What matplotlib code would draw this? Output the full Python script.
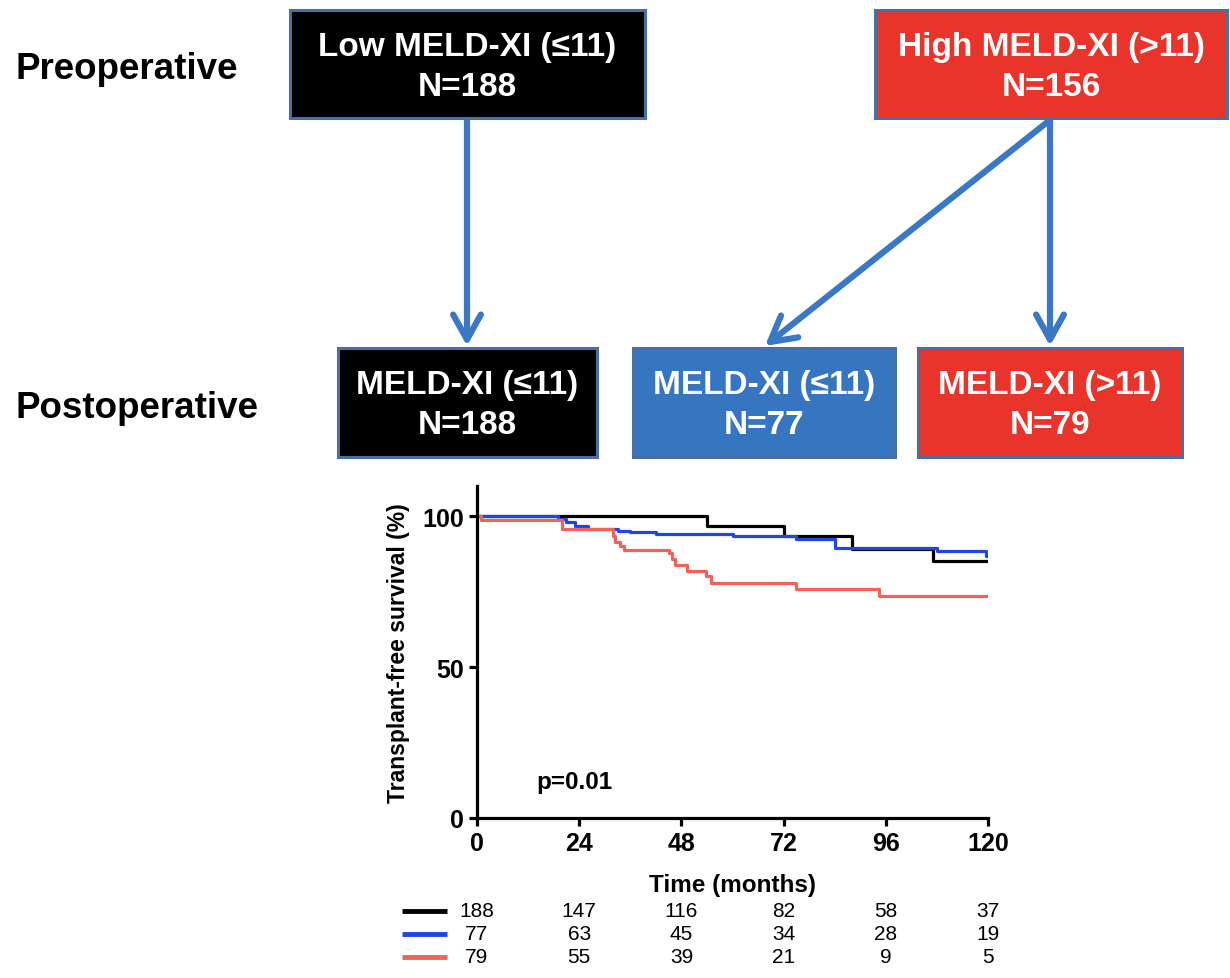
import matplotlib
matplotlib.use("Agg")
import matplotlib.pyplot as plt
from matplotlib.patches import Rectangle, FancyArrowPatch
from matplotlib.transforms import blended_transform_factory

plt.rcParams['font.family'] = ['Liberation Sans', 'DejaVu Sans']

# Kaplan-Meier curves (months, % transplant-free)
low_t = [0, 54, 72, 88, 107, 120]
low_s = [100, 96.8, 93.5, 89.2, 85.2, 85.2]

blue_t = [0, 19, 21, 23, 26, 33, 36, 42, 60, 75, 84, 108, 119.5, 120]
blue_s = [100, 99.2, 98.0, 96.8, 95.6, 95.2, 94.6, 94.0, 93.3, 92.6, 89.6, 88.6, 86.8, 86.8]

red_t = [0, 1, 20, 32, 32.5, 33.5, 34.5, 45, 45.8, 46.6, 49.2, 53.8, 55, 75, 94.5, 120]
red_s = [100, 98.7, 95.6, 93.5, 91.5, 90.0, 88.9, 87.7, 85.9, 83.9, 82.0, 80.1, 77.9, 75.9, 73.5, 73.5]

risk_times = [0, 24, 48, 72, 96, 120]
risk_low = [188, 147, 116, 82, 58, 37]
risk_blue = [77, 63, 45, 34, 28, 19]
risk_red = [79, 55, 39, 21, 9, 5]

BLACK = '#000000'
BLUE_LINE = '#1d47e0'
RED_LINE = '#f0625a'
BOX_RED = '#e8342a'
BOX_BLUE = '#3676c1'
EDGE = '#4a6fa5'
ARROW = '#3a78c6'

fig = plt.figure(figsize=(12.3, 9.79), dpi=100)

# flow diagram drawn on an overlay in pixel units
ax0 = fig.add_axes([0, 0, 1, 1])
ax0.set_xlim(0, 1230)
ax0.set_ylim(979, 0)
ax0.axis('off')

def box(x0, x1, y0, y1, color, line1, line2):
    ax0.add_patch(Rectangle((x0, y0), x1 - x0, y1 - y0, facecolor=color,
                            edgecolor=EDGE, lw=2.2, zorder=2))
    cx = (x0 + x1) / 2
    ax0.text(cx, y0 + 45, line1, color='white', fontsize=24, fontweight='bold',
             ha='center', va='baseline', zorder=3)
    ax0.text(cx, y0 + 85, line2, color='white', fontsize=24, fontweight='bold',
             ha='center', va='baseline', zorder=3)

box(290, 645, 11, 119, BLACK, 'Low MELD-XI (≤11)', 'N=188')
box(875, 1227, 11, 119, BOX_RED, 'High MELD-XI (>11)', 'N=156')
box(338, 597, 349, 458, BLACK, 'MELD-XI (≤11)', 'N=188')
box(633, 895, 349, 458, BOX_BLUE, 'MELD-XI (≤11)', 'N=77')
box(918, 1182, 349, 458, BOX_RED, 'MELD-XI (>11)', 'N=79')

ax0.text(15, 79, 'Preoperative', fontsize=26.5, fontweight='bold', va='baseline')
ax0.text(15, 418, 'Postoperative', fontsize=26.5, fontweight='bold', va='baseline')

def arrow(p0, p1):
    ax0.add_patch(FancyArrowPatch(p0, p1, arrowstyle='->,head_length=0.9,head_width=0.5',
                                  mutation_scale=20, color=ARROW, lw=4.5,
                                  shrinkA=0, shrinkB=0, zorder=1))

arrow((467, 119), (467, 347))
arrow((1050, 121), (1050, 347))
arrow((1050, 121), (765, 347))

# survival plot
ax = fig.add_axes([477 / 1230, 1 - 819 / 979, 511 / 1230, 332 / 979])
ax.step(low_t, low_s, where='post', color=BLACK, lw=2.3)
ax.step(blue_t, blue_s, where='post', color=BLUE_LINE, lw=2.3)
ax.step(red_t, red_s, where='post', color=RED_LINE, lw=2.3)
ax.set_xlim(0, 120)
ax.set_ylim(0, 110)
ax.set_xticks(risk_times)
ax.set_yticks([0, 50, 100])
for s in ['top', 'right']:
    ax.spines[s].set_visible(False)
for s in ['left', 'bottom']:
    ax.spines[s].set_linewidth(2.3)
ax.tick_params(direction='out', length=6, width=2.3, labelsize=18)
for lab in ax.get_xticklabels() + ax.get_yticklabels():
    lab.set_fontweight('bold')
ax.set_xlabel('Time (months)', fontsize=17.5, fontweight='bold', labelpad=13)
ax.set_ylabel('Transplant-free survival (%)', fontsize=16.5, fontweight='bold', labelpad=9)
ax.text(14, 12, 'p=0.01', fontsize=17.5, fontweight='bold', ha='left', va='center')

# number at risk
tr = blended_transform_factory(ax.transData, ax0.transData)
rows = [(risk_low, BLACK, 912), (risk_blue, BLUE_LINE, 935), (risk_red, RED_LINE, 958)]
for counts, col, y in rows:
    ax0.plot([402, 447], [y, y], color=col, lw=3.5, solid_capstyle='butt')
    for t, n in zip(risk_times, counts):
        ax.text(t, y, str(n), transform=tr, fontsize=15, ha='center', va='center',
                clip_on=False)

fig.savefig('out.png', dpi=100)
